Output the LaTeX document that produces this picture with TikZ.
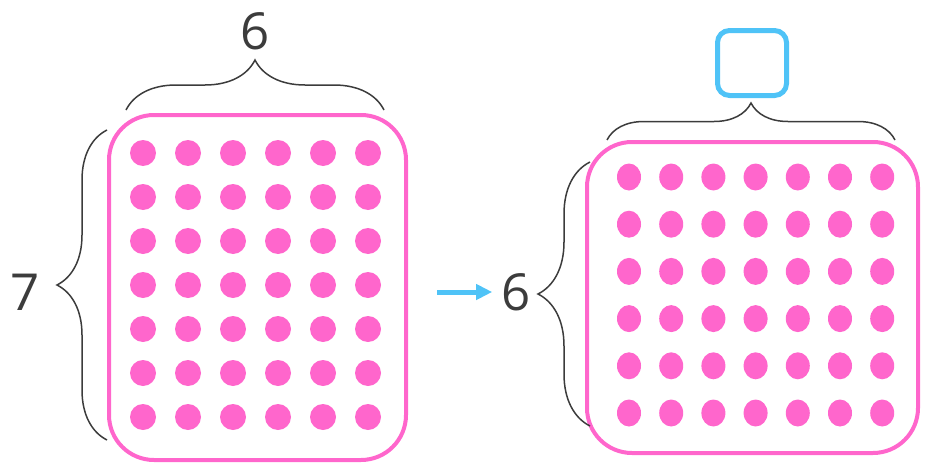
\documentclass[tikz,border=0pt]{standalone}
\usepackage{fontspec}
\setmainfont{Open Sans}
\usepackage{xcolor}
\usetikzlibrary{arrows.meta, positioning, decorations.pathreplacing}

\definecolor{dotpink}{HTML}{FF66CC}
\definecolor{skyblue}{HTML}{4FC3F7}
\definecolor{inkgray}{HTML}{3C3C3C}

\begin{document}
\begin{tikzpicture}[
		x=1pt, y=-1pt,
		% Define styles for the boxes, braces and labels
		array_box/.style={
			rectangle,
			draw=dotpink,
			line width=4pt,
			rounded corners=45pt,
			inner sep=0pt
		},
		answer_box/.style={
			rectangle,
			draw=skyblue,
			line width=5pt,
			rounded corners=12pt,
			minimum width=69pt,
			minimum height=65pt
		},
		brace_style/.style={
			decorate,
			decoration={brace, amplitude=#1},
			draw=inkgray,
			line width=1.5pt
		},
		num_label/.style={
			font=\fontsize{51}{51}\selectfont,
			text=inkgray,
			inner sep=0pt
		},
		arrow_style/.style={
			-{Triangle[length=16pt, width=15pt]},
			line width=5pt,
			draw=skyblue
		},
		]
		
		\useasboundingbox (0,0) rectangle (932,463);
		
		% ----- Nodes -----
		% The two arrays of dots
		\node[array_box, minimum width=297pt, minimum height=345pt] (left_array) at (257.5, 287.5) {};
		\node[array_box, minimum width=331pt, minimum height=311pt] (right_array) at (752.5, 297.5) {};
		
		% Labels and the empty answer box
		\node[num_label] (top_six) at (255, 31) {6};
		\node[num_label] (seven) at (25, 292) {7};
		\node[num_label] (mid_six) at (516, 292) {6};
		\node[answer_box] (answer) at (752, 63) {};
		
		% Dots: 7 rows of 6, then 6 rows of 7
		\foreach \i in {0,...,5}
			\foreach \j in {0,...,6}
				\fill[dotpink] (143+45*\i, 153+44*\j) circle[radius=13pt];
		\foreach \i in {0,...,6}
			\foreach \j in {0,...,5}
				\fill[dotpink] (629+42.2*\i, 177+47.2*\j) ellipse[x radius=12pt, y radius=13.5pt];
		
		% ----- Braces -----
		\coordinate (lt_a) at (126, 110);
		\coordinate (lt_b) at (384, 110);
		\coordinate (ll_a) at (107, 440);
		\coordinate (ll_b) at (107, 130);
		\coordinate (rt_a) at (607, 140);
		\coordinate (rt_b) at (895, 140);
		\coordinate (rl_a) at (590, 426);
		\coordinate (rl_b) at (590, 162);
		
		\draw[brace_style=50pt] (lt_a) -- (lt_b);
		\draw[brace_style=50pt] (ll_a) -- (ll_b);
		\draw[brace_style=37pt] (rt_a) -- (rt_b);
		\draw[brace_style=52pt] (rl_a) -- (rl_b);
		
		% ----- Arrows -----
		\coordinate (arrow_start) at (437, 292);
		\draw[arrow_style] (arrow_start) -- ([xshift=-9pt]mid_six.west);
		
	\end{tikzpicture}
\end{document}
